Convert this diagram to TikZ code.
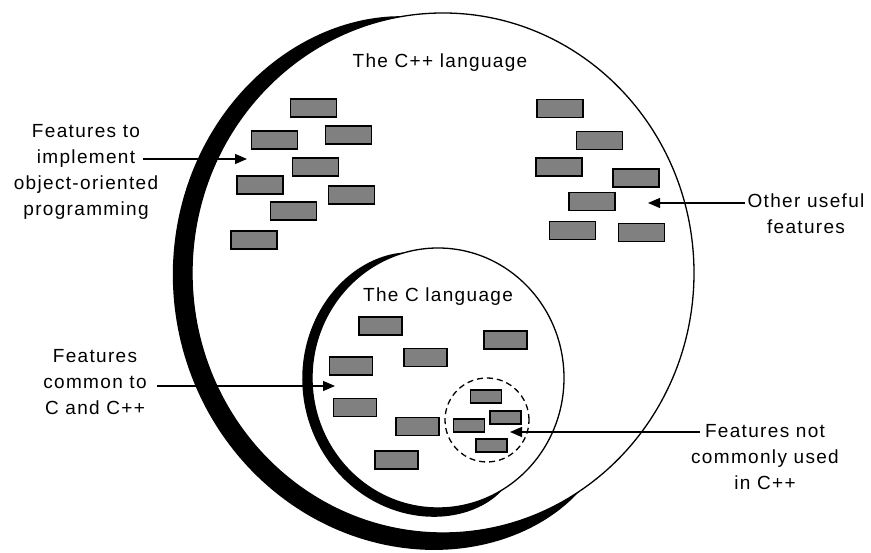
\documentclass[tikz,border=0pt]{standalone}
\usepackage{fontspec}
\setmainfont{Liberation Sans}[LetterSpace=7]
\usetikzlibrary{arrows.meta}
\definecolor{featgray}{RGB}{128,128,128}
\begin{document}
\begin{tikzpicture}[x=1pt,y=1pt,
  outline/.style={line width=1.3pt},
  feat/.style={draw, fill=featgray, line width=1.4pt, inner sep=0pt,
               minimum width=46pt, minimum height=18pt},
  cfeat/.style={feat, minimum width=43pt},
  rarefeat/.style={feat, minimum width=31pt, minimum height=13pt},
  lbl/.style={align=center, inner sep=0pt, anchor=north,
              font=\fontsize{19}{26}\selectfont},
  title/.style={inner sep=0pt, anchor=base, font=\fontsize{19}{26}\selectfont},
  pointer/.style={line width=1.2pt, -{Triangle[length=12pt,width=10pt]}},
  declare function={
    cppw(\t)=20*(1-exp(-(\t-99)/25))*(1-exp(-(303-\t)/18));
    cw(\t)=10*(1-exp(-(\t-105)/20))*(1-exp(-(301-\t)/15));
  }]
\useasboundingbox (0,0) rectangle (871,553);

% C++ circle with its shaded crescent
\fill[black] plot[domain=99:303, samples=140, variable=\t]
  ({443+(251+cppw(\t))*cos(\t)}, {280+(260+cppw(\t))*sin(\t)})
  arc[start angle=303, end angle=99, x radius=251pt, y radius=260pt] -- cycle;
\draw[outline] (443,280) ellipse [x radius=251pt, y radius=260pt];

% C circle with its shaded crescent
\fill[black] plot[domain=105:301, samples=120, variable=\t]
  ({438+(126+cw(\t))*cos(\t)}, {175+(130+cw(\t))*sin(\t)})
  arc[start angle=301, end angle=105, x radius=126pt, y radius=130pt] -- cycle;
\draw[outline] (438,175) ellipse [x radius=126pt, y radius=130pt];

% rarely used subset
\draw[outline, dash pattern=on 6pt off 4pt] (487,133) circle [radius=42pt];

% titles
\node[title] (cpptitle) at (440,485) {The C++ language};
\node[title] (ctitle) at (438,251) {The C language};

% object-oriented features
\node[feat] (oop1) at (313.5,445) {};
\node[feat] (oop2) at (274.5,413) {};
\node[feat] (oop3) at (348.5,418) {};
\node[feat] (oop4) at (315.5,386) {};
\node[feat] (oop5) at (260,368) {};
\node[feat] (oop6) at (351.5,358) {};
\node[feat] (oop7) at (293.5,342) {};
\node[feat] (oop8) at (254,313) {};

% other useful features
\node[feat] (oth1) at (560,444.5) {};
\node[feat] (oth2) at (599.5,412.5) {};
\node[feat] (oth3) at (559,386) {};
\node[feat] (oth4) at (636,375) {};
\node[feat] (oth5) at (592,351.5) {};
\node[feat] (oth6) at (572.5,322.5) {};
\node[feat] (oth7) at (641.5,320.5) {};

% features of C
\node[cfeat] (c1) at (380.5,227) {};
\node[cfeat] (c2) at (505.5,213) {};
\node[cfeat] (c3) at (351,187) {};
\node[cfeat] (c4) at (425.5,195.5) {};
\node[cfeat] (c5) at (355,145.5) {};
\node[cfeat] (c6) at (417.5,126.5) {};
\node[cfeat] (c7) at (396.5,93) {};

% features of C rarely used in C++
\node[rarefeat] (r1) at (486,156.5) {};
\node[rarefeat] (r2) at (505.5,135.5) {};
\node[rarefeat] (r3) at (469,127.5) {};
\node[rarefeat] (r4) at (491.5,107.5) {};

% side labels
\node[lbl] (lbloop) at (86,429) {Features to\\implement\\object-oriented\\programming};
\node[lbl] (lblother) at (806,359) {Other useful\\features};
\node[lbl] (lblcommon) at (95,204) {Features\\common to\\C and C++};
\node[lbl] (lblrare) at (765,129) {Features not\\commonly used\\in C++};

% pointer ends
\coordinate (oopfrom) at (143,394);
\coordinate (oopto) at (247,394);
\coordinate (otherfrom) at (745,350);
\coordinate (otherto) at (648,350);
\coordinate (commonfrom) at (157,167);
\coordinate (commonto) at (335,167);
\coordinate (rarefrom) at (700,121);
\coordinate (rareto) at (510,121);

\draw[pointer] (oopfrom) -- (oopto);
\draw[pointer] (otherfrom) -- (otherto);
\draw[pointer] (commonfrom) -- (commonto);
\draw[pointer] (rarefrom) -- (rareto);
\end{tikzpicture}
\end{document}
